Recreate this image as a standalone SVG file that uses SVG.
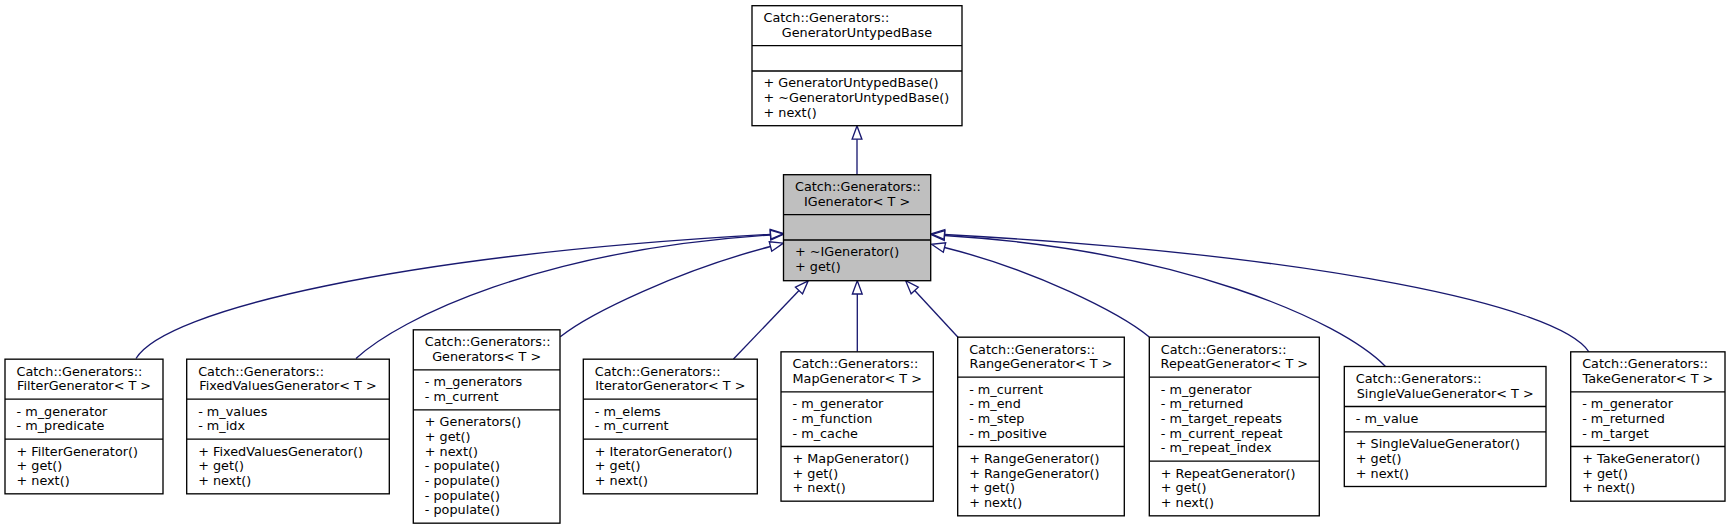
<svg xmlns="http://www.w3.org/2000/svg" width="1731" height="529" viewBox="0 0 1731 529">
<style>
.box{fill:#ffffff;stroke:#000000;stroke-width:1.33}
.cur{fill:#bfbfbf}
.dv{fill:none;stroke:#000000;stroke-width:1.33}
text{font-family:"DejaVu Sans","Liberation Sans",sans-serif;font-size:12.8px;fill:#000000}
.m{text-anchor:middle}
.edge{fill:none;stroke:#191970;stroke-width:1.33;marker-end:url(#tri)}
</style>
<defs>
<marker id="tri" markerUnits="userSpaceOnUse" markerWidth="20" markerHeight="14" refX="1" refY="7" orient="auto" overflow="visible">
<path d="M1,2.1 L14.3,7 L1,11.9 Z" fill="none" stroke="#191970" stroke-width="1.33"/>
</marker>
</defs>
<rect width="1731" height="529" fill="#ffffff"/>

<g id="edges">
<path class="edge" d="M857,174.7 L857,139.2"/>
<path class="edge" d="M136,358.5 C165,310 400,255 770.5,234.3"/>
<path class="edge" d="M356,358.5 C400,318 540,250 770.5,235"/>
<path class="edge" d="M560.3,336.7 C590,313 680,270 770.5,246.5"/>
<path class="edge" d="M733.5,359 L799,290.5"/>
<path class="edge" d="M857.3,351.8 L857.3,294"/>
<path class="edge" d="M958,337.2 L914.7,290.5"/>
<path class="edge" d="M1149.3,337 C1120,313 1035,270 944.5,247.5"/>
<path class="edge" d="M1385.5,366.5 C1340,320 1180,250 944.5,235.5"/>
<path class="edge" d="M1589,352 C1560,306 1320,255 944.5,234.5"/>
</g>

<g id="GeneratorUntypedBase">
<rect class="box" x="752" y="5.7" width="210" height="120"/>
<path class="dv" d="M752,45.7 H962 M752,71 H962"/>
<text x="763.5" y="22">Catch::Generators::</text>
<text class="m" x="857" y="36.7">GeneratorUntypedBase</text>
<text x="763.5" y="87.3">+ GeneratorUntypedBase()</text>
<text x="763.5" y="102">+ ~GeneratorUntypedBase()</text>
<text x="763.5" y="116.6">+ next()</text>
</g>

<g id="IGenerator">
<rect class="box cur" x="783.5" y="174.7" width="147.2" height="106"/>
<path class="dv" d="M783.5,214.7 H930.7 M783.5,240 H930.7"/>
<text x="795" y="191">Catch::Generators::</text>
<text class="m" x="857.1" y="205.7">IGenerator&lt; T &gt;</text>
<text x="795" y="256.3">+ ~IGenerator()</text>
<text x="795" y="271">+ get()</text>
</g>

<g id="FilterGenerator">
<rect class="box" x="5" y="359.17" width="158" height="134.66"/>
<path class="dv" d="M5,399.17 H163 M5,439.17 H163"/>
<text x="16.5" y="375.5">Catch::Generators::</text>
<text class="m" x="84" y="390.2">FilterGenerator&lt; T &gt;</text>
<text x="16.5" y="415.5">- m_generator</text>
<text x="16.5" y="430.2">- m_predicate</text>
<text x="16.5" y="455.5">+ FilterGenerator()</text>
<text x="16.5" y="470.2">+ get()</text>
<text x="16.5" y="484.8">+ next()</text>
</g>

<g id="FixedValuesGenerator">
<rect class="box" x="186.7" y="359.17" width="202.6" height="134.66"/>
<path class="dv" d="M186.7,399.17 H389.3 M186.7,439.17 H389.3"/>
<text x="198.2" y="375.5">Catch::Generators::</text>
<text class="m" x="288" y="390.2">FixedValuesGenerator&lt; T &gt;</text>
<text x="198.2" y="415.5">- m_values</text>
<text x="198.2" y="430.2">- m_idx</text>
<text x="198.2" y="455.5">+ FixedValuesGenerator()</text>
<text x="198.2" y="470.2">+ get()</text>
<text x="198.2" y="484.8">+ next()</text>
</g>

<g id="Generators">
<rect class="box" x="413.3" y="329.83" width="146.7" height="193.34"/>
<path class="dv" d="M413.3,369.83 H560 M413.3,409.83 H560"/>
<text x="424.8" y="346.1">Catch::Generators::</text>
<text class="m" x="486.7" y="360.8">Generators&lt; T &gt;</text>
<text x="424.8" y="386.1">- m_generators</text>
<text x="424.8" y="400.8">- m_current</text>
<text x="424.8" y="426.1">+ Generators()</text>
<text x="424.8" y="440.8">+ get()</text>
<text x="424.8" y="455.5">+ next()</text>
<text x="424.8" y="470.1">- populate()</text>
<text x="424.8" y="484.8">- populate()</text>
<text x="424.8" y="499.5">- populate()</text>
<text x="424.8" y="514.1">- populate()</text>
</g>

<g id="IteratorGenerator">
<rect class="box" x="583.3" y="359.17" width="174" height="134.66"/>
<path class="dv" d="M583.3,399.17 H757.3 M583.3,439.17 H757.3"/>
<text x="594.8" y="375.5">Catch::Generators::</text>
<text class="m" x="670.3" y="390.2">IteratorGenerator&lt; T &gt;</text>
<text x="594.8" y="415.5">- m_elems</text>
<text x="594.8" y="430.2">- m_current</text>
<text x="594.8" y="455.5">+ IteratorGenerator()</text>
<text x="594.8" y="470.2">+ get()</text>
<text x="594.8" y="484.8">+ next()</text>
</g>

<g id="MapGenerator">
<rect class="box" x="781" y="351.83" width="152.3" height="149.34"/>
<path class="dv" d="M781,391.83 H933.3 M781,446.5 H933.3"/>
<text x="792.5" y="368.1">Catch::Generators::</text>
<text class="m" x="857.2" y="382.8">MapGenerator&lt; T &gt;</text>
<text x="792.5" y="408.1">- m_generator</text>
<text x="792.5" y="422.8">- m_function</text>
<text x="792.5" y="437.5">- m_cache</text>
<text x="792.5" y="462.8">+ MapGenerator()</text>
<text x="792.5" y="477.5">+ get()</text>
<text x="792.5" y="492.1">+ next()</text>
</g>

<g id="RangeGenerator">
<rect class="box" x="957.7" y="337.17" width="166.6" height="178.66"/>
<path class="dv" d="M957.7,377.17 H1124.3 M957.7,446.5 H1124.3"/>
<text x="969.2" y="353.5">Catch::Generators::</text>
<text class="m" x="1041" y="368.1">RangeGenerator&lt; T &gt;</text>
<text x="969.2" y="393.5">- m_current</text>
<text x="969.2" y="408.1">- m_end</text>
<text x="969.2" y="422.8">- m_step</text>
<text x="969.2" y="437.5">- m_positive</text>
<text x="969.2" y="462.8">+ RangeGenerator()</text>
<text x="969.2" y="477.5">+ RangeGenerator()</text>
<text x="969.2" y="492.1">+ get()</text>
<text x="969.2" y="506.8">+ next()</text>
</g>

<g id="RepeatGenerator">
<rect class="box" x="1149.3" y="337.17" width="170" height="178.66"/>
<path class="dv" d="M1149.3,377.17 H1319.3 M1149.3,461.17 H1319.3"/>
<text x="1160.8" y="353.5">Catch::Generators::</text>
<text class="m" x="1234.3" y="368.1">RepeatGenerator&lt; T &gt;</text>
<text x="1160.8" y="393.5">- m_generator</text>
<text x="1160.8" y="408.1">- m_returned</text>
<text x="1160.8" y="422.8">- m_target_repeats</text>
<text x="1160.8" y="437.5">- m_current_repeat</text>
<text x="1160.8" y="452.1">- m_repeat_index</text>
<text x="1160.8" y="477.5">+ RepeatGenerator()</text>
<text x="1160.8" y="492.1">+ get()</text>
<text x="1160.8" y="506.8">+ next()</text>
</g>

<g id="SingleValueGenerator">
<rect class="box" x="1344.3" y="366.5" width="201.7" height="120"/>
<path class="dv" d="M1344.3,406.5 H1546 M1344.3,431.83 H1546"/>
<text x="1355.8" y="382.8">Catch::Generators::</text>
<text class="m" x="1445.2" y="397.5">SingleValueGenerator&lt; T &gt;</text>
<text x="1355.8" y="422.8">- m_value</text>
<text x="1355.8" y="448.1">+ SingleValueGenerator()</text>
<text x="1355.8" y="462.8">+ get()</text>
<text x="1355.8" y="477.5">+ next()</text>
</g>

<g id="TakeGenerator">
<rect class="box" x="1570.7" y="351.83" width="154.3" height="149.34"/>
<path class="dv" d="M1570.7,391.83 H1725 M1570.7,446.5 H1725"/>
<text x="1582.2" y="368.1">Catch::Generators::</text>
<text class="m" x="1647.9" y="382.8">TakeGenerator&lt; T &gt;</text>
<text x="1582.2" y="408.1">- m_generator</text>
<text x="1582.2" y="422.8">- m_returned</text>
<text x="1582.2" y="437.5">- m_target</text>
<text x="1582.2" y="462.8">+ TakeGenerator()</text>
<text x="1582.2" y="477.5">+ get()</text>
<text x="1582.2" y="492.1">+ next()</text>
</g>
</svg>
